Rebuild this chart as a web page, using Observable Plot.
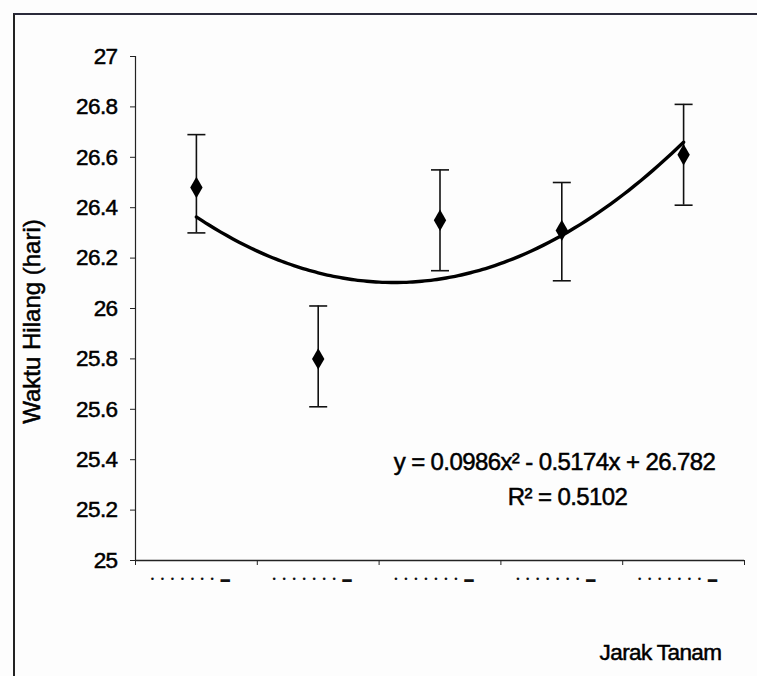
<!DOCTYPE html>
<html>
<head>
<meta charset="utf-8">
<script src="https://cdn.jsdelivr.net/npm/d3@7"></script>
<script src="https://cdn.jsdelivr.net/npm/@observablehq/plot@0.6"></script>
<style>
  html, body { margin: 0; padding: 0; background: #fdfdfd; }
  #wrap { position: relative; width: 757px; height: 676px; overflow: hidden; }
  #frame { position: absolute; left: 13px; top: 13px; width: 800px; height: 700px;
           border-left: 2px solid #222; border-top: 2px solid #2a2a3a; box-sizing: border-box; }
  #chart { position: absolute; left: 0; top: 0; }
  #chart svg text { stroke: #000; stroke-width: 0.5px; }
  #chart svg g[aria-label="y-axis tick label"] text,
  #chart svg g.eq text { letter-spacing: -0.6px; }
  #chart svg g.dots text { stroke: none; }
</style>
</head>
<body>
<div id="wrap"><div id="frame"></div><div id="chart"></div></div>
<script>
// ---- data ----
const S = "\u2002\u2009";
const categories = [1, 2, 3, 4, 5].map(() => ["•", "•", "•", "•", "•", "•", "•", "▬"].join(S));
const positions = [1, 2, 3, 4, 5];
const means = [26.48, 25.80, 26.35, 26.31, 26.61];
const errLow = [26.30, 25.61, 26.15, 26.11, 26.41];
const errHigh = [26.69, 26.01, 26.55, 26.50, 26.81];
const trendCoef = [0.0986, -0.5174, 26.782]; // y = a x^2 + b x + c
const r2Text = "R² = 0.5102";
const eqText = "y = 0.0986x² - 0.5174x + 26.782";
const yTicks = [25, 25.2, 25.4, 25.6, 25.8, 26, 26.2, 26.4, 26.6, 26.8, 27];
const xBounds = [0.5, 1.5, 2.5, 3.5, 4.5, 5.5];
const yLabel = "Waktu Hilang (hari)";
const xLabel = "Jarak Tanam";

const pts = positions.map((x, i) => ({x, cat: categories[i], y: means[i], lo: errLow[i], hi: errHigh[i]}));
const trendX = d3.range(0, 81).map(i => 1 + i * 0.05);
const trend = trendX.map(x => ({x, y: trendCoef[0] * x * x + trendCoef[1] * x + trendCoef[2]}));

const capSymbol = { draw(ctx, size) { const w = Math.sqrt(size / Math.PI); ctx.moveTo(-w, 0); ctx.lineTo(w, 0); } };

const chart = Plot.plot({
  width: 757,
  height: 676,
  marginLeft: 135,
  marginRight: 13,
  marginTop: 56,
  marginBottom: 116,
  style: { fontFamily: "'Liberation Sans', Arial, sans-serif", background: "transparent", color: "#000" },
  x: { domain: [0.5, 5.5] },
  y: { domain: [25, 27] },
  marks: [
    Plot.axisY({ ticks: yTicks, tickFormat: d3.format("~g"), tickSize: 5, tickPadding: 13, fontSize: 22.5, label: null, stroke: "#222" }),
    Plot.axisX({ ticks: xBounds, tickFormat: () => "", tickSize: 5, label: null, stroke: "#222" }),
    Plot.text(pts, { x: "x", text: "cat", frameAnchor: "bottom", dx: -6, dy: 18, fontSize: 9.5, textAnchor: "middle", lineAnchor: "middle", fill: "#111", className: "dots" }),
    Plot.ruleX([0.5], { stroke: "#222", strokeWidth: 1.2 }),
    Plot.ruleY([25], { stroke: "#222", strokeWidth: 1.5 }),
    Plot.ruleX(pts, { x: "x", y1: "lo", y2: "hi", stroke: "#111", strokeWidth: 1.6 }),
    Plot.dot(pts, { x: "x", y: "lo", symbol: capSymbol, r: 9, stroke: "#111", strokeWidth: 1.6, fill: "none" }),
    Plot.dot(pts, { x: "x", y: "hi", symbol: capSymbol, r: 9, stroke: "#111", strokeWidth: 1.6, fill: "none" }),
    Plot.line(trend, { x: "x", y: "y", stroke: "#000", strokeWidth: 3.4, curve: "natural" }),
    Plot.dot(pts, { x: "x", y: "y", symbol: "diamond", r: 6.5, fill: "#000", stroke: "none" }),
    Plot.text([eqText], { frameAnchor: "top-left", dx: 419, dy: 406, fontSize: 24, textAnchor: "middle", lineAnchor: "middle", fill: "#000", className: "eq" }),
    Plot.text([r2Text], { frameAnchor: "top-left", dx: 432, dy: 441, fontSize: 24, textAnchor: "middle", lineAnchor: "middle", fill: "#000", className: "eq" }),
    Plot.text([yLabel], { frameAnchor: "left", rotate: -90, dx: -103, dy: 13, fontSize: 24, textAnchor: "middle", lineAnchor: "middle", fill: "#000" }),
    Plot.text([xLabel], { frameAnchor: "bottom-right", dx: -84, dy: 92, fontSize: 22.5, textAnchor: "middle", lineAnchor: "middle", fill: "#000", className: "eq" })
  ]
});
document.getElementById("chart").appendChild(chart);
</script>
</body>
</html>
